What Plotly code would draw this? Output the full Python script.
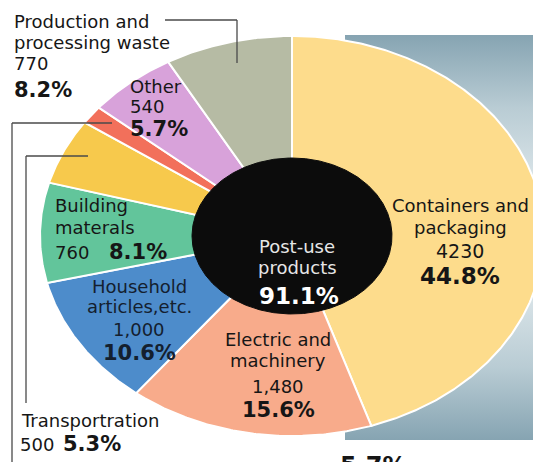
import numpy as np
import plotly.graph_objects as go

# ---- data (thousand tonnes), slices run clockwise from 12 o'clock ----
categories = [
    "Containers and\npackaging",
    "Electric and\nmachinery",
    "Household\narticles,etc.",
    "Building\nmaterals",
    "Transportration",
    "",
    "Other",
    "Production and\nprocessing waste",
]
values = [4230, 1480, 1000, 760, 500, 140, 540, 770]
count_labels = ["4230", "1,480", "1,000", "760", "500", "", "540", "770"]
share_labels = ["44.8%", "15.6%", "10.6%", "8.1%", "5.3%", "", "5.7%", "8.2%"]
center_label = "Post-use\nproducts"
center_share = "91.1%"
trailing_share = "5.7%"

colors = ["#fddc8c", "#f8ab8b", "#4d8ccb", "#62c59b", "#f7c94c",
          "#f2705b", "#d8a2da", "#b6bba4"]

# ---- geometry (pixel space, y grows downward) ----
W, H = 533, 462
CX, CY = 292, 236
RX, RY = 252, 200
IRX, IRY = 100, 78

fig = go.Figure()

# backdrop panel with a vertical blue-grey gradient
fig.add_trace(go.Scatter(
    x=[345, 533, 533, 345, 345], y=[35, 35, 440, 440, 35],
    mode="lines", fill="toself", line=dict(width=0),
    fillgradient=dict(type="vertical", colorscale=[
        [0.0, "#86a4b2"], [0.18, "#b9ccd4"], [0.5, "#f3f7f8"],
        [0.82, "#b9ccd4"], [1.0, "#86a4b2"]]),
    hoverinfo="skip", showlegend=False))


def wedge(a0, a1, rx, ry):
    t = np.linspace(a0, a1, max(8, int((a1 - a0) * 120)))
    xs = np.concatenate([[CX], CX + rx * np.sin(t), [CX]])
    ys = np.concatenate([[CY], CY - ry * np.cos(t), [CY]])
    return xs, ys


total = float(sum(values))
start = 0.0
for v, c in zip(values, colors):
    end = start + v / total * 2 * np.pi
    xs, ys = wedge(start, end, RX, RY)
    fig.add_trace(go.Scatter(x=xs, y=ys, mode="lines", fill="toself",
                             fillcolor=c, line=dict(color="white", width=2),
                             hoverinfo="skip", showlegend=False))
    start = end

# black hub for post-use products
xs, ys = wedge(0, 2 * np.pi, IRX, IRY)
fig.add_trace(go.Scatter(x=xs[1:-1], y=ys[1:-1], mode="lines", fill="toself",
                         fillcolor="#0c0c0c", line=dict(color="#0c0c0c", width=1),
                         hoverinfo="skip", showlegend=False))

# ---- text ----
SANS = "DejaVu Sans"


def add_text(text, x, y, size=18, bold=False, color="#161616", xanchor="center"):
    fig.add_annotation(x=x, y=y, text=f"<b>{text}</b>" if bold else text,
                       showarrow=False, xanchor=xanchor, yanchor="middle",
                       borderpad=0,
                       font=dict(family=SANS, size=size, color=color))


label_pos = {
    0: dict(x=460, xanchor="center", name_y=[205, 227], count_y=251, share_y=276,
            count_size=19, share_size=23),
    1: dict(x=278, xanchor="center", name_y=[339, 360], count_y=386, share_y=410),
    2: dict(x=139, xanchor="center", name_y=[286, 306], count_y=329, share_y=353,
            color="#14202f"),
    3: dict(x=54, xanchor="left", name_y=[205, 227], count_y=252, share_y=252,
            share_x=108),
    4: dict(x=20, xanchor="left", name_y=[420], count_y=444, share_y=444,
            count_x=19, share_x=62),
    6: dict(x=129, xanchor="left", name_y=[86], count_y=106, share_y=129),
    7: dict(x=13, xanchor="left", name_y=[21, 42], count_y=63, share_y=90),
}

for i, p in label_pos.items():
    col = p.get("color", "#161616")
    for line, y in zip(categories[i].split("\n"), p["name_y"]):
        add_text(line, p["x"], y, color=col, xanchor=p["xanchor"])
    add_text(count_labels[i], p.get("count_x", p["x"]), p["count_y"],
             size=p.get("count_size", 18), color=col, xanchor=p["xanchor"])
    add_text(share_labels[i], p.get("share_x", p["x"]), p["share_y"],
             size=p.get("share_size", 21), bold=True, color=col, xanchor=p["xanchor"])

for line, y in zip(center_label.split("\n"), [246, 267]):
    add_text(line, 297, y, color="#e6e6e6")
add_text(center_share, 299, 296, size=23, bold=True, color="white")

# share figure running off the lower edge
fig.add_annotation(x=373, y=450, text=f"<b>{trailing_share}</b>", showarrow=False,
                   xanchor="center", yanchor="top",
                   font=dict(family=SANS, size=24, color="#161616"))

# ---- leader lines ----
leaders = [
    [(165, 20), (237, 20), (237, 63)],
    [(112, 123), (12, 123), (12, 462)],
    [(88, 156), (26, 156), (26, 403)],
]
for pts in leaders:
    for (x0, y0), (x1, y1) in zip(pts[:-1], pts[1:]):
        fig.add_shape(type="line", x0=x0, y0=y0, x1=x1, y1=y1,
                      line=dict(color="#4a4a4a", width=1.3), layer="above")

fig.update_layout(
    width=W, height=H, margin=dict(l=0, r=0, t=0, b=0),
    paper_bgcolor="white", plot_bgcolor="white",
    xaxis=dict(range=[0, W], visible=False, fixedrange=True),
    yaxis=dict(range=[H, 0], visible=False, fixedrange=True),
    showlegend=False,
)

fig.write_html("out.html")
